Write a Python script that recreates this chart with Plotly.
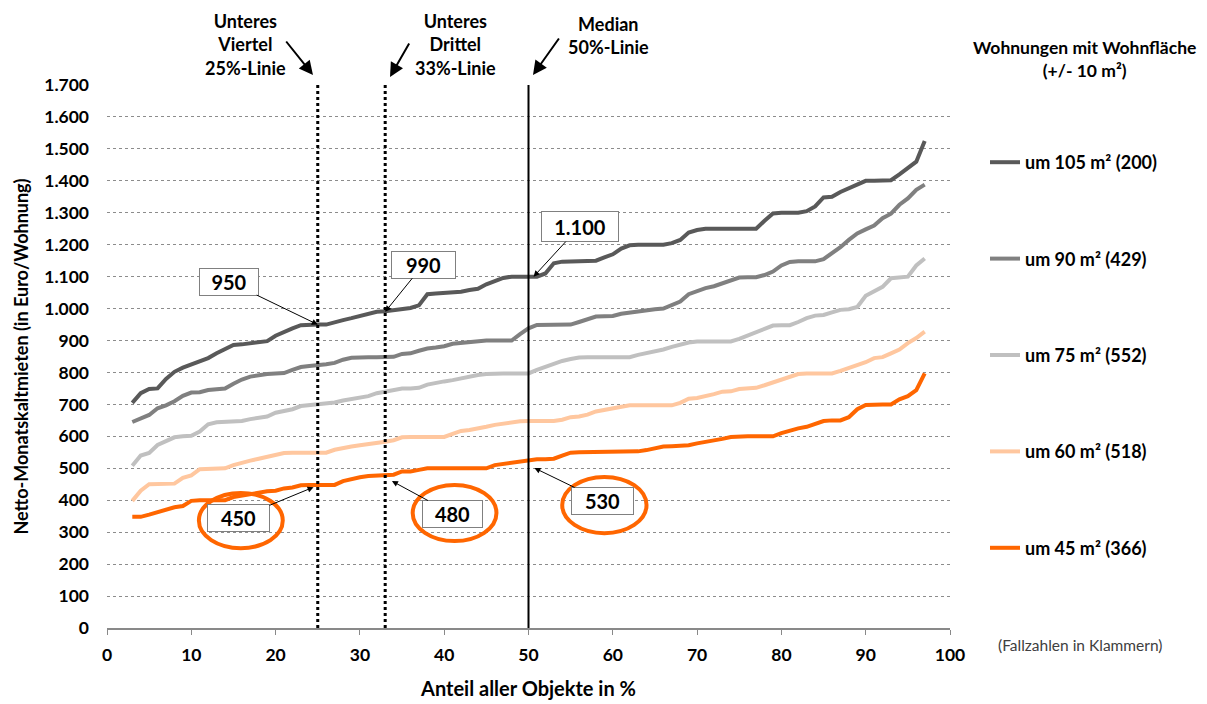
import plotly.graph_objects as go

# ---------------- data ----------------
x_pct = list(range(3, 98))

y_105 = [705, 735, 748, 750, 780, 802, 815, 825, 832, 845,
         860, 872, 886, 888, 892, 896, 898, 915, 928, 938,
         948, 950, 950, 950, 958, 964, 970, 976, 983, 990,
         992, 996, 1000, 1002, 1010, 1045, 1047, 1048, 1050, 1053,
         1058, 1062, 1076, 1085, 1096, 1100, 1100, 1100, 1100, 1110,
         1142, 1147, 1148, 1148, 1148, 1150, 1160, 1170, 1188, 1198,
         1200, 1200, 1200, 1200, 1205, 1215, 1238, 1246, 1250, 1250,
         1250, 1250, 1250, 1250, 1250, 1275, 1298, 1300, 1300, 1300,
         1305, 1320, 1348, 1350, 1365, 1377, 1390, 1400, 1400, 1400,
         1402, 1420, 1440, 1460, 1525]

y_90 = [645, 655, 667, 688, 697, 710, 727, 737, 738, 745,
        748, 750, 765, 778, 787, 792, 795, 797, 798, 808,
        817, 820, 822, 826, 830, 840, 846, 848, 848, 848,
        848, 849, 858, 860, 868, 875, 878, 882, 890, 893,
        896, 900, 900, 900, 900, 900, 920, 938, 949, 950,
        950, 950, 950, 958, 967, 975, 976, 977, 984, 988,
        992, 996, 998, 1000, 1010, 1022, 1045, 1055, 1064, 1070,
        1080, 1090, 1097, 1098, 1098, 1105, 1116, 1135, 1146, 1148,
        1148, 1148, 1155, 1172, 1192, 1215, 1235, 1248, 1260, 1283,
        1297, 1325, 1345, 1372, 1388]

y_75 = [508, 540, 548, 573, 585, 597, 600, 602, 615, 638,
        644, 646, 648, 648, 654, 658, 662, 674, 678, 685,
        695, 698, 698, 702, 706, 712, 716, 720, 726, 735,
        740, 744, 750, 750, 752, 762, 768, 772, 776, 782,
        788, 792, 795, 797, 797, 797, 797, 797, 808, 818,
        828, 836, 842, 847, 848, 848, 848, 848, 848, 848,
        855, 860, 866, 872, 880, 888, 894, 897, 897, 897,
        897, 897, 905, 915, 925, 937, 947, 948, 948, 958,
        970, 978, 980, 988, 996, 998, 1005, 1040, 1055, 1068,
        1095, 1097, 1100, 1135, 1157]

y_60 = [398, 430, 450, 450, 450, 452, 470, 478, 497, 498,
        498, 500, 510, 518, 524, 530, 537, 543, 548, 549,
        549, 549, 549, 549, 558, 564, 568, 572, 575, 580,
        583, 588, 597, 598, 598, 598, 598, 598, 608, 617,
        620, 624, 630, 636, 640, 643, 647, 648, 648, 648,
        648, 652, 660, 662, 668, 678, 683, 688, 694, 697,
        697, 697, 697, 697, 697, 705, 718, 720, 725, 732,
        740, 741, 748, 750, 752, 760, 768, 776, 785, 795,
        797, 797, 797, 797, 805, 813, 822, 832, 845, 848,
        860, 872, 892, 908, 928]

y_45 = [348, 348, 355, 363, 372, 378, 382, 398, 400, 400,
        400, 400, 410, 415, 418, 422, 428, 430, 437, 440,
        447, 448, 448, 448, 448, 460, 467, 472, 476, 478,
        479, 480, 490, 490, 495, 500, 500, 500, 500, 500,
        500, 500, 500, 510, 514, 518, 520, 524, 528, 528,
        530, 540, 549, 550, 550, 550, 550, 550, 550, 550,
        553, 557, 562, 568, 569, 570, 572, 578, 582, 587,
        592, 598, 600, 600, 600, 600, 600, 610, 618, 625,
        630, 640, 648, 650, 650, 660, 685, 698, 700, 700,
        700, 716, 726, 745, 797]

series_names = ["um 105 m² (200)", "um 90 m² (429)", "um 75 m² (552)",
                "um 60 m² (518)", "um 45 m² (366)"]
series_values = [y_105, y_90, y_75, y_60, y_45]
series_colors = ["#595959", "#808080", "#C0C0C0", "#FFC79F", "#FF6600"]

y_ticks = list(range(0, 1701, 100))
x_ticks = list(range(0, 101, 10))

marker_lines = [25, 33, 50]
# (x, y, label, tail dx px, tail dy px, box width, box height)
callouts = [(25, 950, "950", -89, -43, 58, 26),
            (33, 990, "990", 38, -47, 63, 26),
            (50.6, 1100, "1.100", 46, -50, 76, 29),
            (24.5, 441, "450", -75, 31, 61, 26),
            (33.8, 460, "480", 61, 33, 59, 26),
            (50.7, 501, "530", 68, 33, 61, 26)]

FONT = "Lato, 'Open Sans', sans-serif"

# layout geometry (pixels of the reference)
PX0, PX1, PY0, PY1 = 107, 950, 628, 85
PW, PH = PX1 - PX0, PY0 - PY1


def px_to_paper(px, py):
    return (px - PX0) / PW, (PY0 - py) / PH


fig = go.Figure()
for i, (name, vals, col) in enumerate(zip(series_names, series_values, series_colors)):
    fig.add_trace(go.Scatter(
        x=x_pct, y=vals, mode="lines", name=name,
        line=dict(color=col, width=4),
        legendgroup=f"g{i}",
    ))

# vertical reference lines
for xv in marker_lines:
    fig.add_shape(type="line", xref="x", yref="y", x0=xv, x1=xv, y0=0, y1=1700,
                  line=dict(color="black", width=2 if xv == 50 else 3,
                            dash="solid" if xv == 50 else "dot"),
                  layer="above")

# orange ellipses
for (x0, x1, y0, y1) in [(10.9, 20.85, 250, 423), (36.26, 46.2, 272, 448), (54.0, 64.0, 297, 473)]:
    fig.add_shape(type="circle", xref="x", yref="y", x0=x0, x1=x1, y0=y0, y1=y1,
                  line=dict(color="#FF6600", width=4), layer="above")

# callout boxes
for (xv, yv, txt, ax, ay, w, h) in callouts:
    fig.add_annotation(x=xv, y=yv, xref="x", yref="y", text=f"<b>{txt}</b>",
                       showarrow=True, ax=ax, ay=ay, arrowhead=2, arrowsize=1.2,
                       arrowwidth=1, arrowcolor="black",
                       font=dict(family=FONT, size=20, color="black"),
                       bgcolor="white", bordercolor="#808080", borderwidth=1,
                       borderpad=0, width=w, height=h, align="center", valign="middle")

# top arrows
for (tx, ty, ax, ay) in [(313, 75, -28, -35), (390, 77, 20, -35), (533, 75, 27, -38)]:
    xp, yp = px_to_paper(tx, ty)
    fig.add_annotation(x=xp, y=yp, xref="paper", yref="paper", text="",
                       showarrow=True, ax=ax, ay=ay, arrowhead=2, arrowsize=1.4,
                       arrowwidth=2, arrowcolor="black")

top_labels = [(245, 45, "<b>Unteres<br>Viertel<br>25%-Linie</b>"),
              (455, 45, "<b>Unteres<br>Drittel<br>33%-Linie</b>"),
              (608, 36, "<b>Median<br>50%-Linie</b>")]
for (px, py, txt) in top_labels:
    xp, yp = px_to_paper(px, py)
    fig.add_annotation(x=xp, y=yp, xref="paper", yref="paper", xanchor="center",
                       yanchor="middle", text=txt, showarrow=False, align="center",
                       font=dict(family=FONT, size=18, color="black"))

# legend title
xp, yp = px_to_paper(1084, 59)
fig.add_annotation(x=xp, y=yp, xref="paper", yref="paper", xanchor="center", yanchor="middle",
                   text="<b>Wohnungen mit Wohnfläche<br>(+/- 10 m²)</b>", showarrow=False,
                   align="center", font=dict(family=FONT, size=17.5, color="black"))
xp, yp = px_to_paper(1080, 645)
fig.add_annotation(x=xp, y=yp, xref="paper", yref="paper", xanchor="center", yanchor="middle",
                   text="(Fallzahlen in Klammern)", showarrow=False,
                   font=dict(family=FONT, size=15.5, color="#404040"))

lx, ly = px_to_paper(985, 144)
fig.update_layout(
    width=1199, height=696,
    margin=dict(l=99, r=1199 - 99 - PW, t=77, b=696 - 77 - PH, autoexpand=False),
    paper_bgcolor="white", plot_bgcolor="white",
    separators=",.",
    font=dict(family=FONT, size=14, color="black"),
    showlegend=True,
    legend=dict(x=lx, y=ly, xanchor="left", yanchor="top",
                traceorder="grouped", tracegroupgap=70,
                font=dict(family=FONT, size=18, color="black", weight="bold"),
                bgcolor="rgba(0,0,0,0)", itemwidth=30),
    xaxis=dict(range=[0, 100], tickvals=x_ticks, showgrid=False, zeroline=False,
               automargin=False,
               showline=True, linecolor="#898989", linewidth=1.5,
               ticks="outside", ticklen=5, tickcolor="#898989",
               ticklabelstandoff=5,
               tickfont=dict(family=FONT, size=17.5, color="black", weight="bold"),
               title=dict(text="<b>Anteil aller Objekte in %</b>", standoff=18,
                          font=dict(family=FONT, size=20))),
    yaxis=dict(range=[0, 1700], tickvals=y_ticks, tickformat=",d",
               automargin=False,
               showgrid=True, gridcolor="#8C8C8C", griddash="dot", gridwidth=1,
               zeroline=False, showline=False, ticks="",
               ticklabelstandoff=17,
               tickfont=dict(family=FONT, size=17.5, color="black", weight="bold"),
               title=dict(text="<b>Netto-Monatskaltmieten (in Euro/Wohnung)</b>", standoff=10,
                          font=dict(family=FONT, size=18))),
)

fig.write_html("out.html")
